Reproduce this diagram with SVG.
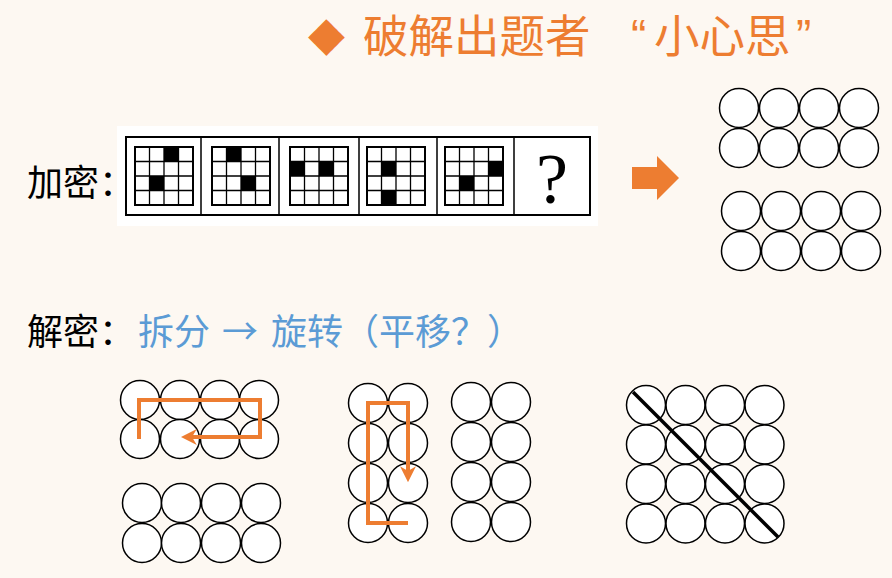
<svg xmlns="http://www.w3.org/2000/svg" width="892" height="578" viewBox="0 0 892 578">
<defs>
<style>
.c{fill:#fff;stroke:#000;stroke-width:1.5}
.cjk{font-family:"Noto Sans CJK SC","Noto Sans",sans-serif}
.lat{font-family:"Liberation Sans",sans-serif}
.or{fill:#ed7d31}
.bl{fill:#5b9bd5}
.path{fill:none;stroke:#ed7d31;stroke-width:4;stroke-linejoin:miter}
.gl{fill:none;stroke:#000;stroke-width:1.3}
.go{fill:none;stroke:#000;stroke-width:2}
</style>
<marker id="ah" viewBox="0 0 10 10" refX="3" refY="5" markerWidth="4" markerHeight="4" orient="auto">
<path d="M0,0 L10,5 L0,10 L3,5 z" fill="#ed7d31"/>
</marker>
<g id="grid">
<path class="gl" d="M14.5,0V58M29,0V58M43.5,0V58M0,14.5H58M0,29H58M0,43.5H58"/>
<rect class="go" x="0" y="0" width="58" height="58"/>
</g>
</defs>
<rect width="892" height="578" fill="#fdf8f2"/>

<g id="title">
<text x="308" y="50" class="or" font-family="DejaVu Sans,sans-serif" font-size="48">◆</text>
<text x="363" y="52.5" class="cjk or" font-size="45.5">破解出题者</text>
<text x="631" y="52" class="lat or" font-size="46">“</text>
<text x="654" y="52.5" class="cjk or" font-size="45.5">小心思</text>
<text x="796" y="52" class="lat or" font-size="46">”</text>
</g>

<g id="label-encrypt">
<text x="27" y="196" class="cjk" font-size="36" fill="#000">加密：</text>
</g>

<g id="puzzle">
<rect x="117" y="126" width="481" height="100" fill="#fff"/>
<rect x="126" y="137" width="464" height="78" fill="none" stroke="#000" stroke-width="2"/>
<path d="M201,137V215M279,137V215M359,137V215M437,137V215M514,137V215" stroke="#000" stroke-width="1.5"/>
<g transform="translate(135,147)">
<rect x="29" y="0" width="14.5" height="14.5"/><rect x="14.5" y="29" width="14.5" height="14.5"/>
<use href="#grid"/></g>
<g transform="translate(212,147)">
<rect x="14.5" y="0" width="14.5" height="14.5"/><rect x="29" y="29" width="14.5" height="14.5"/>
<use href="#grid"/></g>
<g transform="translate(290,147)">
<rect x="0" y="14.5" width="14.5" height="14.5"/><rect x="29" y="14.5" width="14.5" height="14.5"/>
<use href="#grid"/></g>
<g transform="translate(367,147)">
<rect x="14.5" y="14.5" width="14.5" height="14.5"/><rect x="14.5" y="43.5" width="14.5" height="14.5"/>
<use href="#grid"/></g>
<g transform="translate(445,147)">
<rect x="43.5" y="14.5" width="14.5" height="14.5"/><rect x="14.5" y="29" width="14.5" height="14.5"/>
<use href="#grid"/></g>
<text x="552" y="203" text-anchor="middle" font-family="Liberation Serif,serif" font-size="72" fill="#000">?</text>
</g>

<g id="big-arrow">
<polygon class="or" points="632,167 657,167 657,156 679,178 657,200 657,189 632,189"/>
</g>

<g id="result-top">
<circle class="c" cx="739" cy="108" r="19.5"/><circle class="c" cx="779" cy="108" r="19.5"/><circle class="c" cx="819" cy="108" r="19.5"/><circle class="c" cx="859" cy="108" r="19.5"/>
<circle class="c" cx="739" cy="148" r="19.5"/><circle class="c" cx="779" cy="148" r="19.5"/><circle class="c" cx="819" cy="148" r="19.5"/><circle class="c" cx="859" cy="148" r="19.5"/>
</g>
<g id="result-bottom">
<circle class="c" cx="741" cy="211" r="19.5"/><circle class="c" cx="781" cy="211" r="19.5"/><circle class="c" cx="821" cy="211" r="19.5"/><circle class="c" cx="861" cy="211" r="19.5"/>
<circle class="c" cx="741" cy="251" r="19.5"/><circle class="c" cx="781" cy="251" r="19.5"/><circle class="c" cx="821" cy="251" r="19.5"/><circle class="c" cx="861" cy="251" r="19.5"/>
</g>

<g id="label-decrypt">
<text x="27" y="345" class="cjk" font-size="36" fill="#000">解密：</text>
<text x="138" y="345" class="cjk bl" font-size="36">拆分</text>
<text x="222" y="345" class="cjk bl" font-size="36">→</text>
<text x="271" y="345" class="cjk bl" font-size="36">旋转（平移？）</text>
</g>

<g id="split-a1">
<circle class="c" cx="140" cy="400" r="19.5"/><circle class="c" cx="180" cy="400" r="19.5"/><circle class="c" cx="220" cy="400" r="19.5"/><circle class="c" cx="259" cy="400" r="19.5"/>
<circle class="c" cx="140" cy="439" r="19.5"/><circle class="c" cx="180" cy="439" r="19.5"/><circle class="c" cx="220" cy="439" r="19.5"/><circle class="c" cx="259" cy="439" r="19.5"/>
</g>
<g id="split-a2">
<circle class="c" cx="142" cy="503" r="19.5"/><circle class="c" cx="181" cy="503" r="19.5"/><circle class="c" cx="221" cy="503" r="19.5"/><circle class="c" cx="261" cy="503" r="19.5"/>
<circle class="c" cx="142" cy="543" r="19.5"/><circle class="c" cx="181" cy="543" r="19.5"/><circle class="c" cx="221" cy="543" r="19.5"/><circle class="c" cx="261" cy="543" r="19.5"/>
</g>

<g id="rot-b1">
<circle class="c" cx="368" cy="403" r="19.5"/><circle class="c" cx="408" cy="403" r="19.5"/>
<circle class="c" cx="368" cy="443" r="19.5"/><circle class="c" cx="408" cy="443" r="19.5"/>
<circle class="c" cx="368" cy="483" r="19.5"/><circle class="c" cx="408" cy="483" r="19.5"/>
<circle class="c" cx="368" cy="523" r="19.5"/><circle class="c" cx="408" cy="523" r="19.5"/>
</g>
<g id="rot-b2">
<circle class="c" cx="471" cy="402" r="19.5"/><circle class="c" cx="511" cy="402" r="19.5"/>
<circle class="c" cx="471" cy="442" r="19.5"/><circle class="c" cx="511" cy="442" r="19.5"/>
<circle class="c" cx="471" cy="482" r="19.5"/><circle class="c" cx="511" cy="482" r="19.5"/>
<circle class="c" cx="471" cy="522" r="19.5"/><circle class="c" cx="511" cy="522" r="19.5"/>
</g>

<g id="diag-c">
<circle class="c" cx="646" cy="405" r="19.5"/><circle class="c" cx="685.5" cy="405" r="19.5"/><circle class="c" cx="725" cy="405" r="19.5"/><circle class="c" cx="764.5" cy="405" r="19.5"/>
<circle class="c" cx="646" cy="444.5" r="19.5"/><circle class="c" cx="685.5" cy="444.5" r="19.5"/><circle class="c" cx="725" cy="444.5" r="19.5"/><circle class="c" cx="764.5" cy="444.5" r="19.5"/>
<circle class="c" cx="646" cy="484" r="19.5"/><circle class="c" cx="685.5" cy="484" r="19.5"/><circle class="c" cx="725" cy="484" r="19.5"/><circle class="c" cx="764.5" cy="484" r="19.5"/>
<circle class="c" cx="646" cy="523.5" r="19.5"/><circle class="c" cx="685.5" cy="523.5" r="19.5"/><circle class="c" cx="725" cy="523.5" r="19.5"/><circle class="c" cx="764.5" cy="523.5" r="19.5"/>
</g>

<g id="connectors">
<path class="path" d="M139,439V400H260V437H192" marker-end="url(#ah)"/>
<path class="path" d="M408,523H368V403H408V471" marker-end="url(#ah)"/>
<line x1="633" y1="392" x2="778" y2="537" stroke="#000" stroke-width="3.5"/>
</g>
</svg>
